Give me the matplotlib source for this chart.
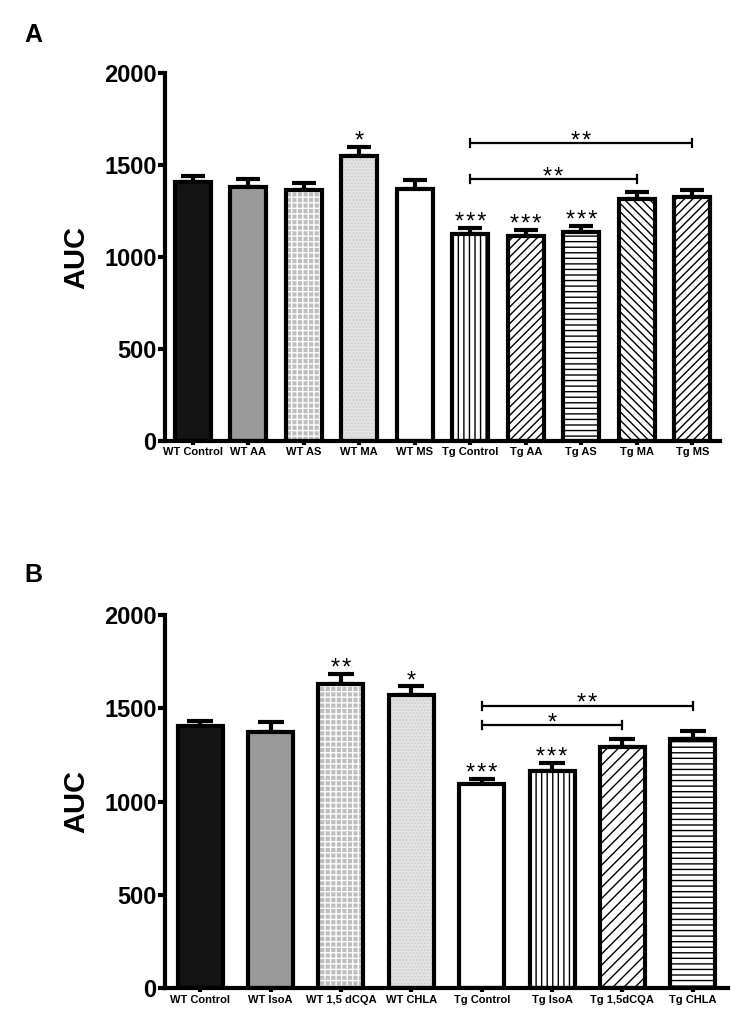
import matplotlib
matplotlib.use("Agg")
import matplotlib.pyplot as plt
import numpy as np

plt.rcParams['font.family'] = ['Liberation Sans', 'DejaVu Sans']
plt.rcParams['hatch.linewidth'] = 1.0

# ---------------- data: panel A ----------------
catsA = ["WT Control", "WT AA", "WT AS", "WT MA", "WT MS",
         "Tg Control", "Tg AA", "Tg AS", "Tg MA", "Tg MS"]
valsA = [1409, 1380, 1364, 1549, 1370, 1125, 1114, 1136, 1313, 1324]
errsA = [30, 45, 40, 50, 48, 30, 33, 30, 40, 40]
starsA = ["", "", "", "*", "", "***", "***", "***", "", ""]
# brackets: (from index, to index, height, label)
bracketsA = [(5, 9, 1618, "**"), (5, 8, 1422, "**")]

# ---------------- data: panel B ----------------
catsB = ["WT Control", "WT IsoA", "WT 1,5 dCQA", "WT CHLA",
         "Tg Control", "Tg IsoA", "Tg 1,5dCQA", "Tg CHLA"]
valsB = [1407, 1375, 1630, 1571, 1094, 1164, 1294, 1337]
errsB = [27, 53, 54, 48, 25, 41, 40, 43]
starsB = ["", "", "**", "*", "***", "***", "", ""]
bracketsB = [(4, 7, 1514, "**"), (4, 6, 1410, "*")]

yticks = [0, 500, 1000, 1500, 2000]

# styles: (facecolor, hatch, hatchcolor)
BLACK = ('#141414', None, 'black')
GRAY = ('#9a9a9a', None, 'black')
GRID = ('#bdbdbd', '+++', 'white')
STIP = ('#e4e4e4', '.....', '#cfcfcf')
WHITE = ('white', None, 'black')
VERT = ('white', '|||', 'black')
DIAG = ('white', '////', 'black')
BDIAG = ('white', '\\\\\\\\', 'black')
HORZ = ('white', '---', 'black')
DIAG3 = ('white', '///', 'black')

stylesA = [BLACK, GRAY, GRID, STIP, WHITE, VERT, DIAG, HORZ, BDIAG, DIAG]
stylesB = [BLACK, GRAY, GRID, STIP, WHITE, VERT, DIAG3, HORZ]

fig = plt.figure(figsize=(7.52, 10.30), dpi=100)
axA = fig.add_axes([165 / 752, 1 - 441 / 1030, 555 / 752, 368 / 1030])
axB = fig.add_axes([165 / 752, 1 - 988.3 / 1030, 563 / 752, 373.3 / 1030])

STAR_FS = 17
STAR_FAMILY = ['Liberation Sans', 'DejaVu Sans']


def spaced(s):
    return '\u200a'.join(s)


def draw(ax, cats, vals, errs, stars, brackets, styles, width, capsize, labx):
    x = np.arange(len(cats))
    for i in range(len(cats)):
        fc, h, hc = styles[i]
        ax.bar(x[i], vals[i], width, color=fc, edgecolor=hc, hatch=h,
               linewidth=0, zorder=2)
    ax.bar(x, vals, width, fill=False, edgecolor='black', linewidth=3,
           zorder=3)
    ax.errorbar(x, vals, yerr=[np.zeros(len(errs)), errs], fmt='none',
                ecolor='black', elinewidth=3, capsize=capsize, capthick=3,
                zorder=1)
    for i, s in enumerate(stars):
        if s:
            ax.annotate(spaced(s), xy=(x[i], vals[i] + errs[i]),
                        xytext=(0, -0.7), textcoords='offset points',
                        ha='center', va='baseline', fontsize=STAR_FS,
                        family=STAR_FAMILY)
    for a, b, hgt, lab in brackets:
        ax.plot([x[a], x[b]], [hgt, hgt], color='black', lw=1.6,
                solid_capstyle='butt', zorder=4)
        for xx in (x[a], x[b]):
            ax.plot([xx, xx], [hgt - 22, hgt + 22], color='black', lw=1.6,
                    zorder=4)
        ax.annotate(spaced(lab), xy=((x[a] + x[b]) / 2, hgt),
                    xytext=(0, -3.4), textcoords='offset points',
                    ha='center', va='baseline', fontsize=STAR_FS,
                    family=STAR_FAMILY)
    ax.set_xlim(-0.5, len(cats) - 0.5)
    ax.set_ylim(0, 2000)
    ax.set_yticks(yticks)
    ax.set_yticklabels([str(t) for t in yticks], fontsize=17,
                       fontweight='bold')
    ax.set_xticks(x)
    ax.set_xticklabels(cats, fontsize=8, fontweight='bold')
    ax.tick_params(axis='y', length=5, width=3, pad=1)
    ax.tick_params(axis='x', length=3, width=3, pad=1.5)
    for sp in ('top', 'right'):
        ax.spines[sp].set_visible(False)
    for sp in ('left', 'bottom'):
        ax.spines[sp].set_linewidth(3)
    ax.set_ylabel("AUC", fontsize=21, fontweight='bold')
    ax.yaxis.set_label_coords(labx, 0.5)


draw(axA, catsA, valsA, errsA, starsA, bracketsA, stylesA, 0.65, 8.3,
     -(165 - 90) / 555)
draw(axB, catsB, valsB, errsB, starsB, bracketsB, stylesB, 0.64, 9.7,
     -(165 - 90) / 563)

fig.text(24 / 752, 1 - 35 / 1030, "A", fontsize=18, fontweight='bold',
         va='center', ha='left')
fig.text(24 / 752, 1 - 575 / 1030, "B", fontsize=18, fontweight='bold',
         va='center', ha='left')

fig.savefig("out.png", dpi=100)
